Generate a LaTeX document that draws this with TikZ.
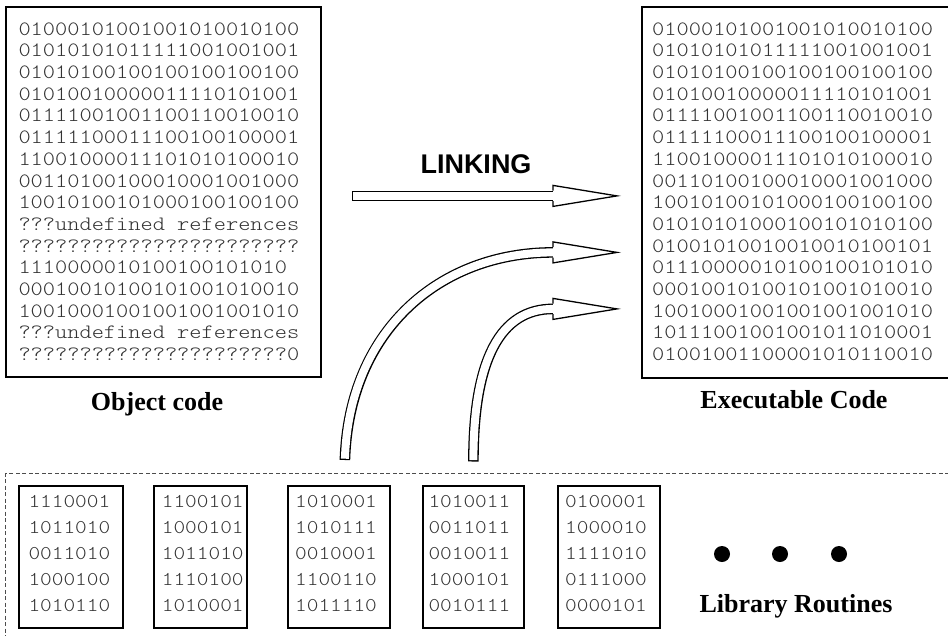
\documentclass[tikz,border=0pt]{standalone}
\usepackage{fontspec}
\setmainfont{Liberation Serif}
\setsansfont{Liberation Sans}
\newfontfamily\codefont{lmmonolt10-regular.otf}[FakeStretch=1.14]
\usetikzlibrary{calc}

% hollow block arrow: #1 = shaft path ending at the head base, #2 = head base
\newcommand\hollowarrow[2]{%
  \draw[line width=10.6] #1;
  \draw[white, line width=8, shorten <=1.3] #1;
  \fill[white] ($(#2)+(0,-10.5)$) -- ($(#2)+(64,0)$) -- ($(#2)+(0,10.5)$) -- cycle;
  \draw[line width=1.3, line join=miter]
    ($(#2)+(0,-5.3)$) -- ($(#2)+(0,-10.5)$) -- ($(#2)+(64,0)$)
    -- ($(#2)+(0,10.5)$) -- ($(#2)+(0,5.3)$);
}

\begin{document}
\begin{tikzpicture}[x=1pt,y=-1pt,
  codebox/.style={draw, line width=1.8, inner sep=0, anchor=north west},
  bits/.style={font=\fontsize{20.4}{24}\codefont\selectfont, text=black!80,
    anchor=base west, inner sep=0},
  libbits/.style={font=\fontsize{19.5}{24}\codefont\selectfont, text=black!80,
    anchor=base west, inner sep=0},
  caption/.style={font=\fontsize{26}{30}\selectfont\bfseries, anchor=base, inner sep=0},
  dot/.style={circle, fill=black, minimum size=16, inner sep=0}]

\useasboundingbox (0,0) rectangle (948,635);
\fill[white] (0,0) rectangle (948,635);
\clip (0,0) rectangle (948,635);

% object code and executable code listings
\node[codebox, minimum width=315, minimum height=370] (obj) at (5,6) {};
\node[codebox, minimum width=330, minimum height=371] (exe) at (641,6) {};

\foreach \t [count=\i from 0] in {
  01000101001001010010100, 01010101011111001001001, 01010100100100100100100,
  01010010000011110101001, 01111001001100110010010, 01111100011100100100001,
  11001000011101010100010, 00110100100010001001000, 10010100101000100100100,
  ???undefined references, ???????????????????????, 1110000010100100101010,
  00010010100101001010010, 10010001001001001001010, ???undefined references,
  ??????????????????????0}
  \node[bits] (objline\i) at (18.3, 35.1+21.7*\i) {\t};

\foreach \t [count=\i from 0] in {
  01000101001001010010100, 01010101011111001001001, 01010100100100100100100,
  01010010000011110101001, 01111001001100110010010, 01111100011100100100001,
  11001000011101010100010, 00110100100010001001000, 10010100101000100100100,
  01010101000100101010100, 01001010010010010100101, 01110000010100100101010,
  00010010100101001010010, 10010001001001001001010, 10111001001001011010001,
  01001001100001010110010}
  \node[bits] (exeline\i) at (652, 35.1+21.7*\i) {\t};

\node[caption] (objlabel) at (157,410) {Object code};
\node[caption] (exelabel) at (794,408.5) {Executable Code};

% library area
\node[draw, dash pattern=on 4 off 2.5, draw=black!70, line width=1.3,
  inner sep=0, anchor=north west, minimum width=960, minimum height=200]
  (libarea) at (5,473) {};

\foreach \n/\x/\w in {1/18/104, 2/153/93, 3/287/102, 4/422/101, 5/557/102}
  \node[codebox, minimum width=\w, minimum height=142] (lib\n) at (\x,485) {};

\foreach \n/\tx/\rows in {
  1/28.3/{1110001,1011010,0011010,1000100,1010110},
  2/161.7/{1100101,1000101,1011010,1110100,1010001},
  3/295/{1010001,1010111,0010001,1100110,1011110},
  4/428.3/{1010011,0011011,0010011,1000101,0010111},
  5/565/{0100001,1000010,1111010,0111000,0000101}}
  \foreach \r [count=\i from 0] in \rows
    \node[libbits] (lib\n line\i) at (\tx, 507.5+26*\i) {\r};

\node[dot] (dot1) at (722,554) {};
\node[dot] (dot2) at (780,554) {};
\node[dot] (dot3) at (839,554) {};
\node[caption] (liblabel) at (796,612) {Library Routines};

% linking arrows
\node[font=\fontsize{27}{30}\sffamily\bfseries\selectfont, anchor=base, inner sep=0]
  (linking) at (476,173) {LINKING};

\coordinate (s0) at ($(obj.east)+(30,4)$);
\coordinate (h0) at ($(exe.west)+(-88,3.5)$);
\coordinate (s1) at ($(lib3.north)+(6,-25)$);
\coordinate (h1) at ($(exe.west)+(-88,60)$);
\coordinate (s2) at ($(lib4.north)+(0,-23.5)$);
\coordinate (h2) at ($(exe.west)+(-88,116.5)$);

\hollowarrow{(s0) -- (h0)}{h0}
\hollowarrow{(s1) .. controls +(4,-130) and +(-113,0) .. (h1)}{h1}
\hollowarrow{(s2) .. controls +(0,-101.5) and +(-53,0) .. (h2)}{h2}

\end{tikzpicture}
\end{document}
